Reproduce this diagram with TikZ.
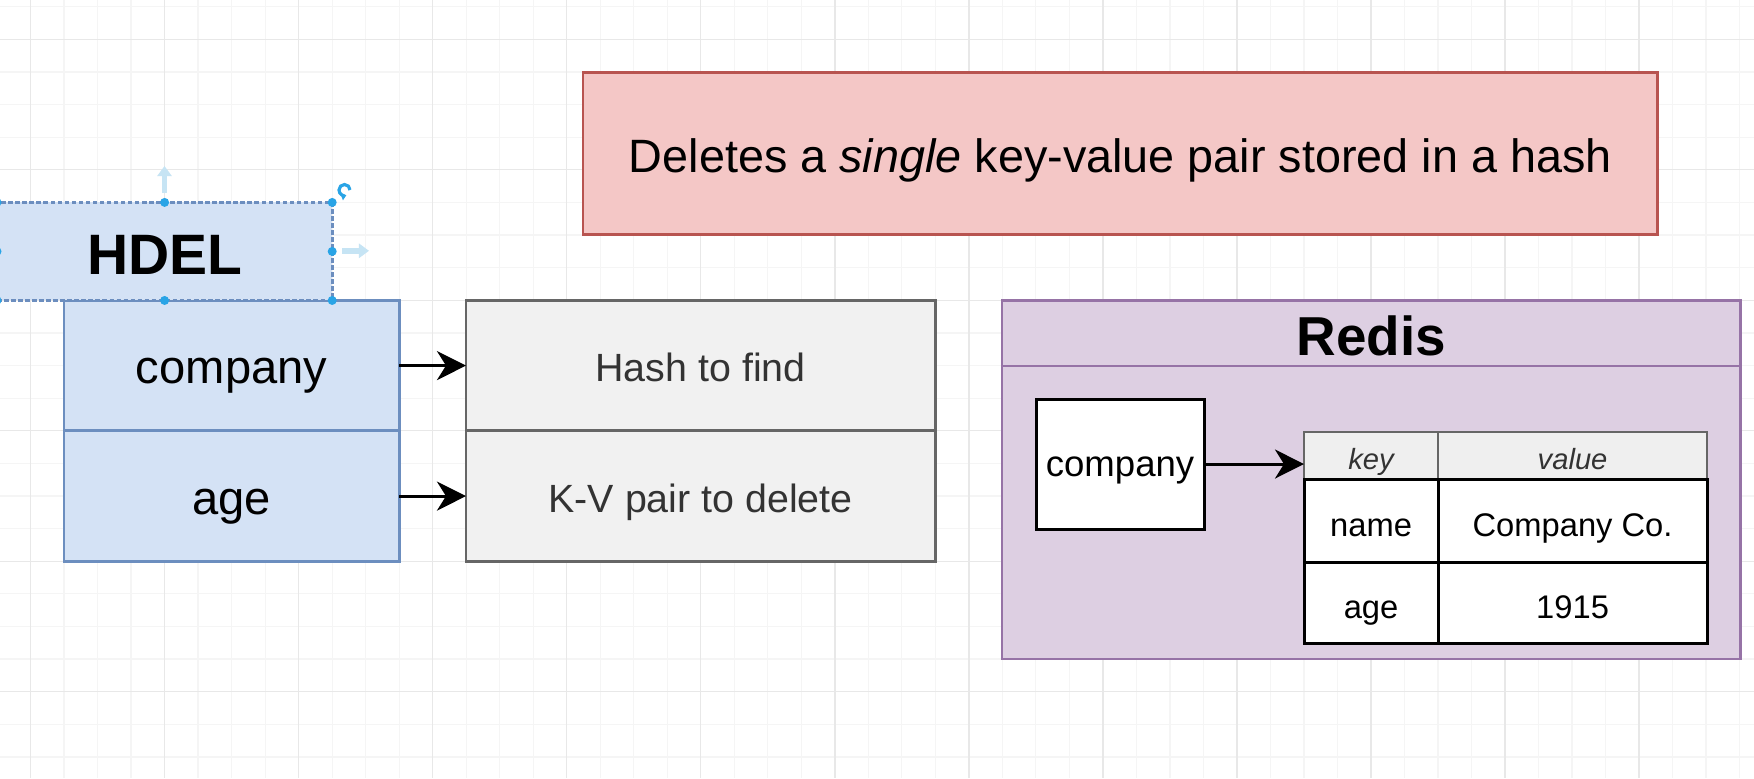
\documentclass[tikz,border=0pt]{standalone}
\usepackage{fontspec}
\setmainfont{Liberation Sans}
\usetikzlibrary{arrows.meta}
\definecolor{bluefill}{HTML}{D4E2F5}
\definecolor{blueline}{HTML}{6C8EBF}
\definecolor{grayfill}{HTML}{F1F1F1}
\definecolor{grayline}{HTML}{666666}
\definecolor{graytext}{HTML}{333333}
\definecolor{redfill}{HTML}{F4C7C6}
\definecolor{redline}{HTML}{B85450}
\definecolor{purplefill}{HTML}{DDCFE2}
\definecolor{purpleline}{HTML}{9673A6}
\definecolor{headfill}{HTML}{EFEFEF}
\definecolor{handleblue}{HTML}{29A4E6}
\definecolor{hintblue}{HTML}{C6E4F4}
\definecolor{gridlight}{HTML}{F5F5F5}
\definecolor{griddark}{HTML}{E8E8E8}
\begin{document}
\begin{tikzpicture}[x=0.01cm,y=-0.01cm,
      every node/.style={inner sep=0pt,outer sep=0pt,anchor=north west},
      fs/.style n args={2}{font=\fontsize{#1}{#1}\selectfont,text depth={0.2*#1pt},text height={(2*#2+0.2)*#1pt}},
      gridminor/.style={draw=gridlight,line width=0.35pt},
      gridmajor/.style={draw=griddark,line width=0.4pt},
      argbox/.style={draw=blueline,fill=bluefill,line width=0.75pt,fs={13.4}{0.38}},
      notebox/.style={draw=grayline,fill=grayfill,text=graytext,line width=0.75pt,fs={11.2}{0.41}},
      redisbox/.style={draw=purpleline,fill=purplefill,line width=0.75pt},
      cell/.style={draw=black,fill=white,line width=0.85pt,fs={9.3}{0.5}},
      headcell/.style={draw=grayline,fill=headfill,text=graytext,line width=0.75pt,fs={8.3}{0.47},font=\fontsize{8.3}{8.3}\selectfont\itshape},
      handle/.style={fill=handleblue},
      hint/.style={draw=hintblue,line width=1.6pt,-{Triangle[length=0.1cm,width=0.14cm]}}]
      \useasboundingbox (0,0) rectangle (1754,778);
      \fill[white] (0,0) rectangle (1754,778);
      \foreach \i in {-4,...,47}
        \draw[gridminor] ({164.6+33.51*\i},0) -- ({164.6+33.51*\i},778);
      \foreach \j in {-1,...,22}
        \draw[gridminor] (0,{39.3+32.62*\j}) -- (1754,{39.3+32.62*\j});
      \foreach \i in {-4,0,...,44}
        \draw[gridmajor] ({164.6+33.51*\i},0) -- ({164.6+33.51*\i},778);
      \foreach \j in {0,4,...,20}
        \draw[gridmajor] (0,{39.3+32.62*\j}) -- (1754,{39.3+32.62*\j});
      \node[draw=redline,fill=redfill,line width=0.75pt,minimum width=10.74cm,minimum height=1.62cm,
        fs={13.3}{0.41}] (note) at (583,72.7)
        {Deletes a \textit{single} key-value pair stored in a hash};
      \node[argbox,minimum width=3.35cm,minimum height=1.305cm] (company) at (64,300.3) {company};
      \node[argbox,minimum width=3.35cm,minimum height=1.305cm] (age) at (64,430.8) {age};
      \node[argbox,dash pattern=on 1.3pt off 0.7pt,minimum width=3.35cm,minimum height=0.98cm,
        fs={16.2}{0.4},font=\fontsize{16.2}{16.2}\bfseries] (hdel) at (-3,202.4) {HDEL};
      \node[notebox,minimum width=4.69cm,minimum height=1.305cm] (hash) at (466,300.3) {Hash to find};
      \node[notebox,minimum width=4.69cm,minimum height=1.305cm] (kv) at (466,430.8) {K-V pair to delete};
      \node[redisbox,minimum width=7.38cm,minimum height=3.585cm] (redis) at (1002,300.3) {};
      \node[redisbox,minimum width=7.38cm,minimum height=0.652cm,
        fs={15.6}{0.4},font=\fontsize{15.6}{15.6}\bfseries] (title) at (1002,300.3) {Redis};
      \node[cell,minimum width=1.68cm,minimum height=1.30cm,fs={10.4}{0.35}] (key) at (1036,399) {company};
      \node[headcell,minimum width=1.34cm,minimum height=0.47cm] (keyhead) at (1304,432) {key};
      \node[headcell,minimum width=2.69cm,minimum height=0.47cm] (valhead) at (1438,432) {value};
      \node[cell,minimum width=1.34cm,minimum height=0.83cm] (namekey) at (1304,479) {name};
      \node[cell,minimum width=2.69cm,minimum height=0.83cm] (nameval) at (1438,479) {Company Co.};
      \node[cell,minimum width=1.34cm,minimum height=0.81cm] (agekey) at (1304,562) {age};
      \node[cell,minimum width=2.69cm,minimum height=0.81cm] (ageval) at (1438,562) {1915};
      \foreach \p in {north west,north,north east,east,south east,south,south west,west}
        \fill[handle] (hdel.\p) circle (0.045cm);
      \draw[hint] (164.5,193) -- (164.5,166);
      \draw[hint] (342,250.8) -- (369,250.8);
      \draw[handleblue,line width=0.9pt,-{Triangle[length=0.05cm,width=0.07cm]}] (350,190) arc[start angle=0,end angle=290,radius=0.055cm];
      \begin{scope}[-{Stealth[length=0.29cm,width=0.29cm,inset=0.09cm]},line width=0.85pt]
        \draw (company) to (hash);
        \draw (age) to (kv);
        \draw (key.east) to (key.east -| keyhead.west);
      \end{scope}
    \end{tikzpicture}
\end{document}
